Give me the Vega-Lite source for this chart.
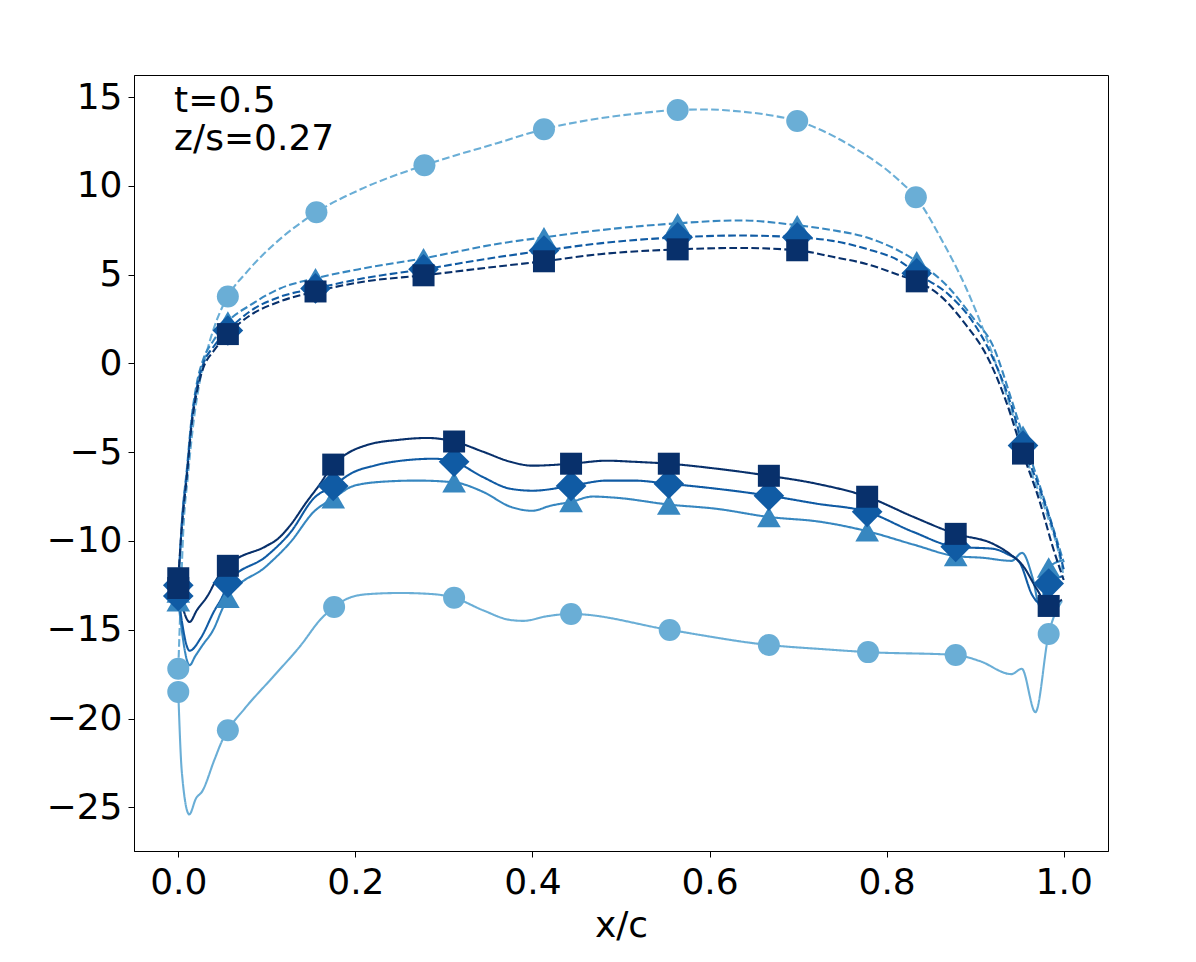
{
  "$schema": "https://vega.github.io/schema/vega-lite/v6.json",
  "width": 974,
  "height": 776,
  "autosize": {"type": "none"},
  "padding": {"left": 134, "top": 75, "right": 88, "bottom": 111},
  "datasets": {
    "curves": [
      {"series": "s1", "side": "suction", "x": 0, "y": -17.2},
      {"series": "s1", "side": "suction", "x": 0.0025, "y": -13.6},
      {"series": "s1", "side": "suction", "x": 0.0055, "y": -9.6},
      {"series": "s1", "side": "suction", "x": 0.011, "y": -6.3},
      {"series": "s1", "side": "suction", "x": 0.017, "y": -3.4},
      {"series": "s1", "side": "suction", "x": 0.024, "y": -1.1},
      {"series": "s1", "side": "suction", "x": 0.033, "y": 0.8},
      {"series": "s1", "side": "suction", "x": 0.044, "y": 2.5},
      {"series": "s1", "side": "suction", "x": 0.056, "y": 3.77},
      {"series": "s1", "side": "suction", "x": 0.078, "y": 5.18},
      {"series": "s1", "side": "suction", "x": 0.107, "y": 6.65},
      {"series": "s1", "side": "suction", "x": 0.156, "y": 8.51},
      {"series": "s1", "side": "suction", "x": 0.209, "y": 9.87},
      {"series": "s1", "side": "suction", "x": 0.278, "y": 11.16},
      {"series": "s1", "side": "suction", "x": 0.36, "y": 12.4},
      {"series": "s1", "side": "suction", "x": 0.413, "y": 13.19},
      {"series": "s1", "side": "suction", "x": 0.476, "y": 13.8},
      {"series": "s1", "side": "suction", "x": 0.52, "y": 14.08},
      {"series": "s1", "side": "suction", "x": 0.564, "y": 14.27},
      {"series": "s1", "side": "suction", "x": 0.6, "y": 14.3},
      {"series": "s1", "side": "suction", "x": 0.626, "y": 14.22},
      {"series": "s1", "side": "suction", "x": 0.665, "y": 14.0},
      {"series": "s1", "side": "suction", "x": 0.699, "y": 13.65},
      {"series": "s1", "side": "suction", "x": 0.758, "y": 12.3},
      {"series": "s1", "side": "suction", "x": 0.815, "y": 10.26},
      {"series": "s1", "side": "suction", "x": 0.833, "y": 9.36},
      {"series": "s1", "side": "suction", "x": 0.863, "y": 6.88},
      {"series": "s1", "side": "suction", "x": 0.89, "y": 4.22},
      {"series": "s1", "side": "suction", "x": 0.913, "y": 1.4},
      {"series": "s1", "side": "suction", "x": 0.935, "y": -1.7},
      {"series": "s1", "side": "suction", "x": 0.958, "y": -5.4},
      {"series": "s1", "side": "suction", "x": 0.981, "y": -8.5},
      {"series": "s1", "side": "suction", "x": 0.995, "y": -10.8},
      {"series": "s1", "side": "suction", "x": 1.0, "y": -12.0},

      {"series": "s1", "side": "pressure", "x": 0, "y": -18.5},
      {"series": "s1", "side": "pressure", "x": 0.004, "y": -23.0},
      {"series": "s1", "side": "pressure", "x": 0.0124, "y": -25.4},
      {"series": "s1", "side": "pressure", "x": 0.02, "y": -24.5},
      {"series": "s1", "side": "pressure", "x": 0.027, "y": -24.1},
      {"series": "s1", "side": "pressure", "x": 0.041, "y": -22.3},
      {"series": "s1", "side": "pressure", "x": 0.05, "y": -21.2},
      {"series": "s1", "side": "pressure", "x": 0.056, "y": -20.66},
      {"series": "s1", "side": "pressure", "x": 0.0745, "y": -19.47},
      {"series": "s1", "side": "pressure", "x": 0.108, "y": -17.6},
      {"series": "s1", "side": "pressure", "x": 0.138, "y": -15.9},
      {"series": "s1", "side": "pressure", "x": 0.161, "y": -14.4},
      {"series": "s1", "side": "pressure", "x": 0.176, "y": -13.72},
      {"series": "s1", "side": "pressure", "x": 0.19, "y": -13.27},
      {"series": "s1", "side": "pressure", "x": 0.213, "y": -13.0},
      {"series": "s1", "side": "pressure", "x": 0.251, "y": -12.93},
      {"series": "s1", "side": "pressure", "x": 0.289, "y": -13.0},
      {"series": "s1", "side": "pressure", "x": 0.3115, "y": -13.2},
      {"series": "s1", "side": "pressure", "x": 0.344, "y": -13.9},
      {"series": "s1", "side": "pressure", "x": 0.375, "y": -14.45},
      {"series": "s1", "side": "pressure", "x": 0.39, "y": -14.5},
      {"series": "s1", "side": "pressure", "x": 0.415, "y": -14.25},
      {"series": "s1", "side": "pressure", "x": 0.4436, "y": -14.11},
      {"series": "s1", "side": "pressure", "x": 0.555, "y": -15.01},
      {"series": "s1", "side": "pressure", "x": 0.667, "y": -15.86},
      {"series": "s1", "side": "pressure", "x": 0.73, "y": -16.1},
      {"series": "s1", "side": "pressure", "x": 0.779, "y": -16.26},
      {"series": "s1", "side": "pressure", "x": 0.878, "y": -16.42},
      {"series": "s1", "side": "pressure", "x": 0.905, "y": -16.76},
      {"series": "s1", "side": "pressure", "x": 0.941, "y": -17.5},
      {"series": "s1", "side": "pressure", "x": 0.9526, "y": -17.2},
      {"series": "s1", "side": "pressure", "x": 0.968, "y": -19.64},
      {"series": "s1", "side": "pressure", "x": 0.983, "y": -15.24},
      {"series": "s1", "side": "pressure", "x": 0.998, "y": -13.38},

      {"series": "s2", "side": "suction", "x": 0, "y": -12.9},
      {"series": "s2", "side": "suction", "x": 0.0041, "y": -8.9},
      {"series": "s2", "side": "suction", "x": 0.0098, "y": -5.9},
      {"series": "s2", "side": "suction", "x": 0.015, "y": -3.1},
      {"series": "s2", "side": "suction", "x": 0.021, "y": -1.1},
      {"series": "s2", "side": "suction", "x": 0.028, "y": 0.2},
      {"series": "s2", "side": "suction", "x": 0.04, "y": 1.3},
      {"series": "s2", "side": "suction", "x": 0.056, "y": 2.36},
      {"series": "s2", "side": "suction", "x": 0.081, "y": 3.27},
      {"series": "s2", "side": "suction", "x": 0.115, "y": 4.22},
      {"series": "s2", "side": "suction", "x": 0.155, "y": 4.79},
      {"series": "s2", "side": "suction", "x": 0.209, "y": 5.35},
      {"series": "s2", "side": "suction", "x": 0.277, "y": 5.92},
      {"series": "s2", "side": "suction", "x": 0.363, "y": 6.75},
      {"series": "s2", "side": "suction", "x": 0.413, "y": 7.1},
      {"series": "s2", "side": "suction", "x": 0.476, "y": 7.5},
      {"series": "s2", "side": "suction", "x": 0.564, "y": 7.89},
      {"series": "s2", "side": "suction", "x": 0.634, "y": 8.05},
      {"series": "s2", "side": "suction", "x": 0.699, "y": 7.78},
      {"series": "s2", "side": "suction", "x": 0.739, "y": 7.5},
      {"series": "s2", "side": "suction", "x": 0.777, "y": 7.1},
      {"series": "s2", "side": "suction", "x": 0.815, "y": 6.31},
      {"series": "s2", "side": "suction", "x": 0.834, "y": 5.75},
      {"series": "s2", "side": "suction", "x": 0.871, "y": 4.22},
      {"series": "s2", "side": "suction", "x": 0.897, "y": 2.6},
      {"series": "s2", "side": "suction", "x": 0.92, "y": 1.0},
      {"series": "s2", "side": "suction", "x": 0.942, "y": -2.2},
      {"series": "s2", "side": "suction", "x": 0.954, "y": -4.07},
      {"series": "s2", "side": "suction", "x": 0.973, "y": -6.9},
      {"series": "s2", "side": "suction", "x": 0.992, "y": -9.9},
      {"series": "s2", "side": "suction", "x": 1.0, "y": -11.2},

      {"series": "s2", "side": "pressure", "x": 0, "y": -13.4},
      {"series": "s2", "side": "pressure", "x": 0.0128, "y": -17.0},
      {"series": "s2", "side": "pressure", "x": 0.019, "y": -16.5},
      {"series": "s2", "side": "pressure", "x": 0.027, "y": -15.9},
      {"series": "s2", "side": "pressure", "x": 0.04, "y": -14.96},
      {"series": "s2", "side": "pressure", "x": 0.05, "y": -13.8},
      {"series": "s2", "side": "pressure", "x": 0.056, "y": -13.2},
      {"series": "s2", "side": "pressure", "x": 0.1, "y": -11.4},
      {"series": "s2", "side": "pressure", "x": 0.127, "y": -10.05},
      {"series": "s2", "side": "pressure", "x": 0.153, "y": -8.36},
      {"series": "s2", "side": "pressure", "x": 0.175, "y": -7.6},
      {"series": "s2", "side": "pressure", "x": 0.198, "y": -6.9},
      {"series": "s2", "side": "pressure", "x": 0.232, "y": -6.66},
      {"series": "s2", "side": "pressure", "x": 0.27, "y": -6.6},
      {"series": "s2", "side": "pressure", "x": 0.3115, "y": -6.7},
      {"series": "s2", "side": "pressure", "x": 0.344, "y": -7.23},
      {"series": "s2", "side": "pressure", "x": 0.375, "y": -8.07},
      {"series": "s2", "side": "pressure", "x": 0.4, "y": -8.3},
      {"series": "s2", "side": "pressure", "x": 0.42, "y": -8.02},
      {"series": "s2", "side": "pressure", "x": 0.4436, "y": -7.8},
      {"series": "s2", "side": "pressure", "x": 0.468, "y": -7.5},
      {"series": "s2", "side": "pressure", "x": 0.495, "y": -7.57},
      {"series": "s2", "side": "pressure", "x": 0.554, "y": -7.95},
      {"series": "s2", "side": "pressure", "x": 0.608, "y": -8.19},
      {"series": "s2", "side": "pressure", "x": 0.667, "y": -8.65},
      {"series": "s2", "side": "pressure", "x": 0.725, "y": -8.92},
      {"series": "s2", "side": "pressure", "x": 0.778, "y": -9.45},
      {"series": "s2", "side": "pressure", "x": 0.83, "y": -10.2},
      {"series": "s2", "side": "pressure", "x": 0.878, "y": -10.85},
      {"series": "s2", "side": "pressure", "x": 0.909, "y": -10.95},
      {"series": "s2", "side": "pressure", "x": 0.941, "y": -11.12},
      {"series": "s2", "side": "pressure", "x": 0.953, "y": -10.67},
      {"series": "s2", "side": "pressure", "x": 0.965, "y": -12.1},
      {"series": "s2", "side": "pressure", "x": 0.973, "y": -13.66},
      {"series": "s2", "side": "pressure", "x": 0.983, "y": -11.5},
      {"series": "s2", "side": "pressure", "x": 0.998, "y": -11.1},

      {"series": "s3", "side": "suction", "x": 0, "y": -12.5},
      {"series": "s3", "side": "suction", "x": 0.0041, "y": -9.0},
      {"series": "s3", "side": "suction", "x": 0.0098, "y": -6.1},
      {"series": "s3", "side": "suction", "x": 0.015, "y": -3.3},
      {"series": "s3", "side": "suction", "x": 0.021, "y": -1.35},
      {"series": "s3", "side": "suction", "x": 0.028, "y": -0.05},
      {"series": "s3", "side": "suction", "x": 0.04, "y": 0.95},
      {"series": "s3", "side": "suction", "x": 0.056, "y": 1.85},
      {"series": "s3", "side": "suction", "x": 0.081, "y": 2.93},
      {"series": "s3", "side": "suction", "x": 0.115, "y": 3.75},
      {"series": "s3", "side": "suction", "x": 0.155, "y": 4.22},
      {"series": "s3", "side": "suction", "x": 0.209, "y": 4.79},
      {"series": "s3", "side": "suction", "x": 0.277, "y": 5.3},
      {"series": "s3", "side": "suction", "x": 0.363, "y": 6.0},
      {"series": "s3", "side": "suction", "x": 0.413, "y": 6.35},
      {"series": "s3", "side": "suction", "x": 0.476, "y": 6.76},
      {"series": "s3", "side": "suction", "x": 0.564, "y": 7.1},
      {"series": "s3", "side": "suction", "x": 0.634, "y": 7.2},
      {"series": "s3", "side": "suction", "x": 0.699, "y": 7.1},
      {"series": "s3", "side": "suction", "x": 0.739, "y": 6.9},
      {"series": "s3", "side": "suction", "x": 0.777, "y": 6.45},
      {"series": "s3", "side": "suction", "x": 0.815, "y": 5.75},
      {"series": "s3", "side": "suction", "x": 0.834, "y": 5.07},
      {"series": "s3", "side": "suction", "x": 0.871, "y": 3.83},
      {"series": "s3", "side": "suction", "x": 0.897, "y": 2.36},
      {"series": "s3", "side": "suction", "x": 0.92, "y": 0.3},
      {"series": "s3", "side": "suction", "x": 0.942, "y": -2.55},
      {"series": "s3", "side": "suction", "x": 0.954, "y": -4.63},
      {"series": "s3", "side": "suction", "x": 0.973, "y": -7.06},
      {"series": "s3", "side": "suction", "x": 0.992, "y": -10.05},
      {"series": "s3", "side": "suction", "x": 1.0, "y": -11.6},

      {"series": "s3", "side": "pressure", "x": 0, "y": -13.1},
      {"series": "s3", "side": "pressure", "x": 0.0128, "y": -16.18},
      {"series": "s3", "side": "pressure", "x": 0.025, "y": -15.5},
      {"series": "s3", "side": "pressure", "x": 0.04, "y": -14.0},
      {"series": "s3", "side": "pressure", "x": 0.051, "y": -13.0},
      {"series": "s3", "side": "pressure", "x": 0.056, "y": -12.35},
      {"series": "s3", "side": "pressure", "x": 0.1, "y": -10.84},
      {"series": "s3", "side": "pressure", "x": 0.127, "y": -9.5},
      {"series": "s3", "side": "pressure", "x": 0.153, "y": -7.6},
      {"series": "s3", "side": "pressure", "x": 0.175, "y": -6.9},
      {"series": "s3", "side": "pressure", "x": 0.195, "y": -6.2},
      {"series": "s3", "side": "pressure", "x": 0.221, "y": -5.76},
      {"series": "s3", "side": "pressure", "x": 0.252, "y": -5.48},
      {"series": "s3", "side": "pressure", "x": 0.289, "y": -5.37},
      {"series": "s3", "side": "pressure", "x": 0.3115, "y": -5.54},
      {"series": "s3", "side": "pressure", "x": 0.344, "y": -6.4},
      {"series": "s3", "side": "pressure", "x": 0.375, "y": -7.06},
      {"series": "s3", "side": "pressure", "x": 0.4, "y": -7.17},
      {"series": "s3", "side": "pressure", "x": 0.4436, "y": -6.9},
      {"series": "s3", "side": "pressure", "x": 0.484, "y": -6.6},
      {"series": "s3", "side": "pressure", "x": 0.514, "y": -6.6},
      {"series": "s3", "side": "pressure", "x": 0.554, "y": -6.78},
      {"series": "s3", "side": "pressure", "x": 0.608, "y": -7.06},
      {"series": "s3", "side": "pressure", "x": 0.667, "y": -7.45},
      {"series": "s3", "side": "pressure", "x": 0.721, "y": -7.9},
      {"series": "s3", "side": "pressure", "x": 0.778, "y": -8.36},
      {"series": "s3", "side": "pressure", "x": 0.83, "y": -9.49},
      {"series": "s3", "side": "pressure", "x": 0.878, "y": -10.33},
      {"series": "s3", "side": "pressure", "x": 0.92, "y": -10.44},
      {"series": "s3", "side": "pressure", "x": 0.936, "y": -10.73},
      {"series": "s3", "side": "pressure", "x": 0.95, "y": -11.2},
      {"series": "s3", "side": "pressure", "x": 0.965, "y": -13.1},
      {"series": "s3", "side": "pressure", "x": 0.973, "y": -13.5},
      {"series": "s3", "side": "pressure", "x": 0.983, "y": -12.4},
      {"series": "s3", "side": "pressure", "x": 0.998, "y": -12.0},

      {"series": "s4", "side": "suction", "x": 0, "y": -12.1},
      {"series": "s4", "side": "suction", "x": 0.0041, "y": -9.15},
      {"series": "s4", "side": "suction", "x": 0.0098, "y": -6.3},
      {"series": "s4", "side": "suction", "x": 0.015, "y": -3.5},
      {"series": "s4", "side": "suction", "x": 0.021, "y": -1.6},
      {"series": "s4", "side": "suction", "x": 0.028, "y": -0.29},
      {"series": "s4", "side": "suction", "x": 0.04, "y": 0.7},
      {"series": "s4", "side": "suction", "x": 0.056, "y": 1.65},
      {"series": "s4", "side": "suction", "x": 0.081, "y": 2.7},
      {"series": "s4", "side": "suction", "x": 0.115, "y": 3.49},
      {"series": "s4", "side": "suction", "x": 0.155, "y": 4.05},
      {"series": "s4", "side": "suction", "x": 0.209, "y": 4.6},
      {"series": "s4", "side": "suction", "x": 0.277, "y": 4.96},
      {"series": "s4", "side": "suction", "x": 0.363, "y": 5.47},
      {"series": "s4", "side": "suction", "x": 0.413, "y": 5.75},
      {"series": "s4", "side": "suction", "x": 0.476, "y": 6.15},
      {"series": "s4", "side": "suction", "x": 0.564, "y": 6.42},
      {"series": "s4", "side": "suction", "x": 0.634, "y": 6.5},
      {"series": "s4", "side": "suction", "x": 0.699, "y": 6.37},
      {"series": "s4", "side": "suction", "x": 0.739, "y": 6.0},
      {"series": "s4", "side": "suction", "x": 0.777, "y": 5.6},
      {"series": "s4", "side": "suction", "x": 0.815, "y": 4.96},
      {"series": "s4", "side": "suction", "x": 0.834, "y": 4.62},
      {"series": "s4", "side": "suction", "x": 0.86, "y": 3.83},
      {"series": "s4", "side": "suction", "x": 0.89, "y": 2.14},
      {"series": "s4", "side": "suction", "x": 0.913, "y": 0.44},
      {"series": "s4", "side": "suction", "x": 0.935, "y": -2.15},
      {"series": "s4", "side": "suction", "x": 0.954, "y": -5.08},
      {"series": "s4", "side": "suction", "x": 0.973, "y": -7.8},
      {"series": "s4", "side": "suction", "x": 0.988, "y": -10.4},
      {"series": "s4", "side": "suction", "x": 1.0, "y": -12.2},

      {"series": "s4", "side": "pressure", "x": 0, "y": -12.65},
      {"series": "s4", "side": "pressure", "x": 0.0128, "y": -14.56},
      {"series": "s4", "side": "pressure", "x": 0.021, "y": -13.9},
      {"series": "s4", "side": "pressure", "x": 0.033, "y": -13.1},
      {"series": "s4", "side": "pressure", "x": 0.044, "y": -12.1},
      {"series": "s4", "side": "pressure", "x": 0.056, "y": -11.4},
      {"series": "s4", "side": "pressure", "x": 0.1, "y": -10.27},
      {"series": "s4", "side": "pressure", "x": 0.112, "y": -9.9},
      {"series": "s4", "side": "pressure", "x": 0.126, "y": -9.15},
      {"series": "s4", "side": "pressure", "x": 0.145, "y": -7.8},
      {"series": "s4", "side": "pressure", "x": 0.16, "y": -6.8},
      {"series": "s4", "side": "pressure", "x": 0.175, "y": -5.7},
      {"series": "s4", "side": "pressure", "x": 0.19, "y": -5.1},
      {"series": "s4", "side": "pressure", "x": 0.213, "y": -4.6},
      {"series": "s4", "side": "pressure", "x": 0.25, "y": -4.3},
      {"series": "s4", "side": "pressure", "x": 0.281, "y": -4.2},
      {"series": "s4", "side": "pressure", "x": 0.3115, "y": -4.4},
      {"series": "s4", "side": "pressure", "x": 0.344, "y": -4.97},
      {"series": "s4", "side": "pressure", "x": 0.375, "y": -5.54},
      {"series": "s4", "side": "pressure", "x": 0.4, "y": -5.76},
      {"series": "s4", "side": "pressure", "x": 0.4436, "y": -5.65},
      {"series": "s4", "side": "pressure", "x": 0.484, "y": -5.48},
      {"series": "s4", "side": "pressure", "x": 0.514, "y": -5.54},
      {"series": "s4", "side": "pressure", "x": 0.554, "y": -5.65},
      {"series": "s4", "side": "pressure", "x": 0.608, "y": -5.93},
      {"series": "s4", "side": "pressure", "x": 0.667, "y": -6.33},
      {"series": "s4", "side": "pressure", "x": 0.721, "y": -6.78},
      {"series": "s4", "side": "pressure", "x": 0.778, "y": -7.51},
      {"series": "s4", "side": "pressure", "x": 0.83, "y": -8.64},
      {"series": "s4", "side": "pressure", "x": 0.878, "y": -9.6},
      {"series": "s4", "side": "pressure", "x": 0.92, "y": -10.16},
      {"series": "s4", "side": "pressure", "x": 0.939, "y": -10.73},
      {"series": "s4", "side": "pressure", "x": 0.954, "y": -11.4},
      {"series": "s4", "side": "pressure", "x": 0.9695, "y": -12.7},
      {"series": "s4", "side": "pressure", "x": 0.983, "y": -13.66},
      {"series": "s4", "side": "pressure", "x": 0.998, "y": -13.3}
    ],
    "probes": [
      {"series": "s1", "x": 0, "y": -17.2},
      {"series": "s1", "x": 0.056, "y": 3.77},
      {"series": "s1", "x": 0.156, "y": 8.51},
      {"series": "s1", "x": 0.278, "y": 11.16},
      {"series": "s1", "x": 0.413, "y": 13.19},
      {"series": "s1", "x": 0.564, "y": 14.27},
      {"series": "s1", "x": 0.699, "y": 13.65},
      {"series": "s1", "x": 0.833, "y": 9.36},
      {"series": "s1", "x": 0, "y": -18.5},
      {"series": "s1", "x": 0.056, "y": -20.66},
      {"series": "s1", "x": 0.176, "y": -13.72},
      {"series": "s1", "x": 0.3115, "y": -13.2},
      {"series": "s1", "x": 0.4436, "y": -14.11},
      {"series": "s1", "x": 0.555, "y": -15.01},
      {"series": "s1", "x": 0.667, "y": -15.86},
      {"series": "s1", "x": 0.779, "y": -16.26},
      {"series": "s1", "x": 0.878, "y": -16.42},
      {"series": "s1", "x": 0.983, "y": -15.24},

      {"series": "s2", "x": 0, "y": -12.9},
      {"series": "s2", "x": 0.056, "y": 2.36},
      {"series": "s2", "x": 0.155, "y": 4.79},
      {"series": "s2", "x": 0.277, "y": 5.92},
      {"series": "s2", "x": 0.413, "y": 7.1},
      {"series": "s2", "x": 0.564, "y": 7.89},
      {"series": "s2", "x": 0.699, "y": 7.78},
      {"series": "s2", "x": 0.834, "y": 5.75},
      {"series": "s2", "x": 0.954, "y": -4.07},
      {"series": "s2", "x": 0, "y": -13.4},
      {"series": "s2", "x": 0.056, "y": -13.2},
      {"series": "s2", "x": 0.175, "y": -7.6},
      {"series": "s2", "x": 0.3115, "y": -6.7},
      {"series": "s2", "x": 0.4436, "y": -7.8},
      {"series": "s2", "x": 0.554, "y": -7.95},
      {"series": "s2", "x": 0.667, "y": -8.65},
      {"series": "s2", "x": 0.778, "y": -9.45},
      {"series": "s2", "x": 0.878, "y": -10.85},
      {"series": "s2", "x": 0.983, "y": -11.5},

      {"series": "s3", "x": 0, "y": -12.5},
      {"series": "s3", "x": 0.056, "y": 1.85},
      {"series": "s3", "x": 0.155, "y": 4.22},
      {"series": "s3", "x": 0.277, "y": 5.3},
      {"series": "s3", "x": 0.413, "y": 6.35},
      {"series": "s3", "x": 0.564, "y": 7.1},
      {"series": "s3", "x": 0.699, "y": 7.1},
      {"series": "s3", "x": 0.834, "y": 5.07},
      {"series": "s3", "x": 0.954, "y": -4.63},
      {"series": "s3", "x": 0, "y": -13.1},
      {"series": "s3", "x": 0.056, "y": -12.35},
      {"series": "s3", "x": 0.175, "y": -6.9},
      {"series": "s3", "x": 0.3115, "y": -5.54},
      {"series": "s3", "x": 0.4436, "y": -6.9},
      {"series": "s3", "x": 0.554, "y": -6.78},
      {"series": "s3", "x": 0.667, "y": -7.45},
      {"series": "s3", "x": 0.778, "y": -8.36},
      {"series": "s3", "x": 0.878, "y": -10.33},
      {"series": "s3", "x": 0.983, "y": -12.4},

      {"series": "s4", "x": 0, "y": -12.1},
      {"series": "s4", "x": 0.056, "y": 1.65},
      {"series": "s4", "x": 0.155, "y": 4.05},
      {"series": "s4", "x": 0.277, "y": 4.96},
      {"series": "s4", "x": 0.413, "y": 5.75},
      {"series": "s4", "x": 0.564, "y": 6.42},
      {"series": "s4", "x": 0.699, "y": 6.37},
      {"series": "s4", "x": 0.834, "y": 4.62},
      {"series": "s4", "x": 0.954, "y": -5.08},
      {"series": "s4", "x": 0, "y": -12.65},
      {"series": "s4", "x": 0.056, "y": -11.4},
      {"series": "s4", "x": 0.175, "y": -5.7},
      {"series": "s4", "x": 0.3115, "y": -4.4},
      {"series": "s4", "x": 0.4436, "y": -5.65},
      {"series": "s4", "x": 0.554, "y": -5.65},
      {"series": "s4", "x": 0.667, "y": -6.33},
      {"series": "s4", "x": 0.778, "y": -7.51},
      {"series": "s4", "x": 0.878, "y": -9.6},
      {"series": "s4", "x": 0.983, "y": -13.66}
    ],
    "notes": [
      {"label": "t=0.5"},
      {"label": "z/s=0.27"}
    ]
  },
  "layer": [
    {
      "data": {"name": "curves"},
      "mark": {"type": "line", "strokeWidth": 2.1, "clip": true, "interpolate": "monotone"},
      "encoding": {
        "x": {
          "field": "x",
          "type": "quantitative",
          "title": "x/c",
          "scale": {"domain": [-0.05, 1.05], "nice": false, "zero": false},
          "axis": {"values": [0, 0.2, 0.4, 0.6, 0.8, 1.0], "format": ".1f", "labelPadding": 8, "titlePadding": 8}
        },
        "y": {
          "field": "y",
          "type": "quantitative",
          "title": null,
          "scale": {"domain": [-27.46, 16.24], "nice": false, "zero": false},
          "axis": {"values": [-25, -20, -15, -10, -5, 0, 5, 10, 15], "format": "d", "labelPadding": 6}
        },
        "color": {
          "field": "series",
          "type": "nominal",
          "scale": {"domain": ["s1", "s2", "s3", "s4"], "range": ["#6aaed6", "#3787c0", "#105ba4", "#08306b"]},
          "legend": null
        },
        "strokeDash": {
          "field": "side",
          "type": "nominal",
          "scale": {"domain": ["pressure", "suction"], "range": [[1, 0], [7.7, 3.3]]},
          "legend": null
        }
      }
    },
    {
      "data": {"name": "probes"},
      "transform": [{"filter": "datum.series === 's1'"}],
      "mark": {"type": "point", "shape": "circle", "size": 484, "filled": true, "opacity": 1, "strokeWidth": 0},
      "encoding": {
        "x": {"field": "x", "type": "quantitative"},
        "y": {"field": "y", "type": "quantitative"},
        "color": {"field": "series", "type": "nominal", "legend": null}
      }
    },
    {
      "data": {"name": "probes"},
      "transform": [{"filter": "datum.series === 's2'"}],
      "mark": {"type": "point", "shape": "triangle-up", "size": 560, "filled": true, "opacity": 1, "strokeWidth": 0},
      "encoding": {
        "x": {"field": "x", "type": "quantitative"},
        "y": {"field": "y", "type": "quantitative"},
        "color": {"field": "series", "type": "nominal", "legend": null}
      }
    },
    {
      "data": {"name": "probes"},
      "transform": [{"filter": "datum.series === 's3'"}],
      "mark": {"type": "point", "shape": "diamond", "size": 940, "filled": true, "opacity": 1, "strokeWidth": 0},
      "encoding": {
        "x": {"field": "x", "type": "quantitative"},
        "y": {"field": "y", "type": "quantitative"},
        "color": {"field": "series", "type": "nominal", "legend": null}
      }
    },
    {
      "data": {"name": "probes"},
      "transform": [{"filter": "datum.series === 's4'"}],
      "mark": {"type": "point", "shape": "square", "size": 484, "filled": true, "opacity": 1, "strokeWidth": 0},
      "encoding": {
        "x": {"field": "x", "type": "quantitative"},
        "y": {"field": "y", "type": "quantitative"},
        "color": {"field": "series", "type": "nominal", "legend": null}
      }
    },
    {
      "data": {"name": "notes"},
      "transform": [{"filter": "datum.label === 't=0.5'"}],
      "mark": {"type": "text", "align": "left", "baseline": "alphabetic", "fontSize": 36, "font": "DejaVu Sans", "fill": "black"},
      "encoding": {
        "text": {"field": "label", "type": "nominal"},
        "x": {"datum": -0.0047, "type": "quantitative"},
        "y": {"datum": 14.14, "type": "quantitative"}
      }
    },
    {
      "data": {"name": "notes"},
      "transform": [{"filter": "datum.label === 'z/s=0.27'"}],
      "mark": {"type": "text", "align": "left", "baseline": "alphabetic", "fontSize": 36, "font": "DejaVu Sans", "fill": "black"},
      "encoding": {
        "text": {"field": "label", "type": "nominal"},
        "x": {"datum": -0.0047, "type": "quantitative"},
        "y": {"datum": 12.04, "type": "quantitative"}
      }
    }
  ],
  "config": {
    "font": "DejaVu Sans",
    "view": {"stroke": "black", "strokeWidth": 1},
    "axis": {
      "grid": false,
      "domainColor": "black",
      "domainWidth": 1,
      "tickColor": "black",
      "tickSize": 6,
      "tickWidth": 1,
      "labelFont": "DejaVu Sans",
      "labelFontSize": 36,
      "labelColor": "black",
      "titleFont": "DejaVu Sans",
      "titleFontSize": 36,
      "titleFontWeight": "normal",
      "titleColor": "black",
      "labelFlush": false,
      "labelOverlap": false
    }
  }
}
